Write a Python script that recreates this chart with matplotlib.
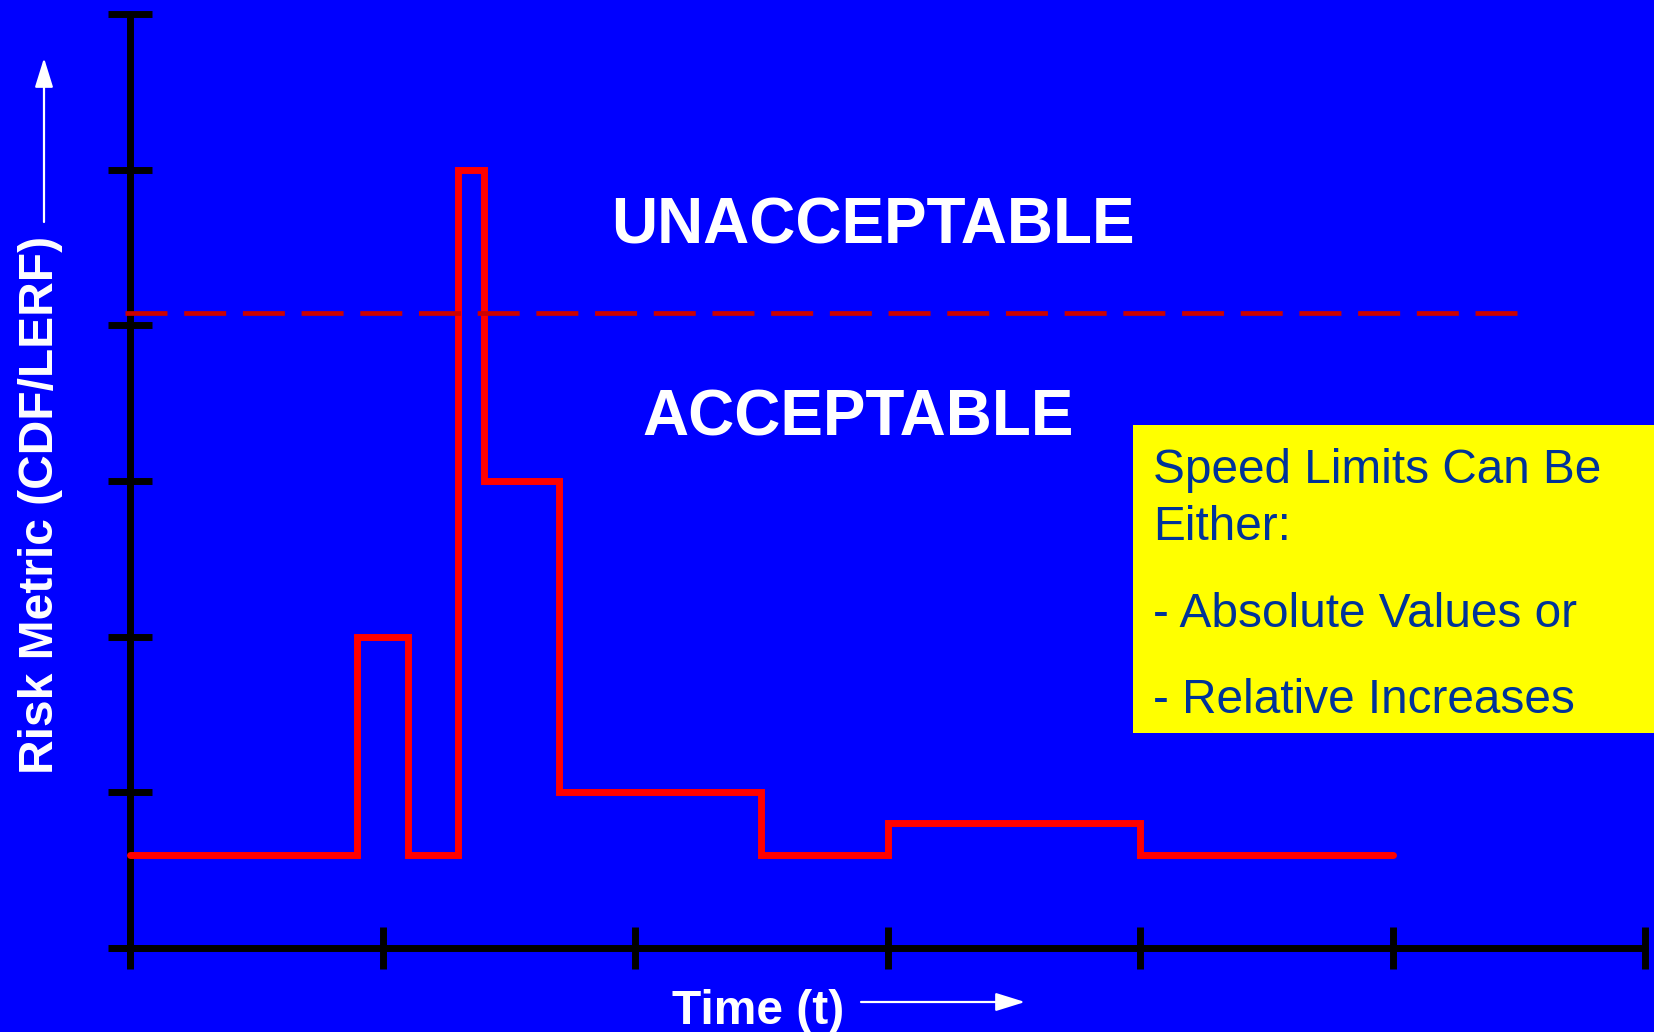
import matplotlib
matplotlib.use("Agg")
import matplotlib.pyplot as plt
from matplotlib.patches import Rectangle

# ---- data ----
step_x = [0, 0.9, 1.1, 1.3, 1.4, 1.7, 2.5, 3.0, 4.0, 5.0]
step_y = [0.6, 2.0, 0.6, 5.0, 3.0, 1.0, 0.6, 0.8, 0.6, 0.6]
threshold = 4.08
threshold_span = [-0.02, 5.493]
x_ticks = [0, 1, 2, 3, 4, 5, 6]
y_ticks = [0, 1, 2, 3, 4, 5, 6]
upper_label = "UNACCEPTABLE"
lower_label = "ACCEPTABLE"
y_label = "Risk Metric (CDF/LERF)"
x_label = "Time (t)"
box_lines = ["Speed Limits Can Be", "Either:", "- Absolute Values or", "- Relative Increases"]

W, H = 1654, 1032
BLUE = "#0000FF"
plt.rcParams['font.family'] = ['Liberation Sans', 'DejaVu Sans']

fig = plt.figure(figsize=(W / 100, H / 100), dpi=100, facecolor=BLUE)
ax = fig.add_axes([0, 0, 1, 1])
ax.set_facecolor('none')

# pixel mapping: x=0 -> 130px, x=6 -> 1645px ; y=0 -> 948px (from top), y=6 -> 14px
pxx = (1645 - 130) / 6
pxy = (948 - 14) / 6
ax.set_xlim(-130 / pxx, 6 + (W - 1645) / pxx)
ax.set_ylim(-(H - 948) / pxy, 6 + 14 / pxy)

for s in ['top', 'right']:
    ax.spines[s].set_visible(False)
for s in ['left', 'bottom']:
    ax.spines[s].set_position(('data', 0))
    ax.spines[s].set_linewidth(5)
    ax.spines[s].set_color('black')
    ax.spines[s].set_capstyle('round')
ax.spines['left'].set_bounds(-16.5 / pxy, 6)
ax.spines['bottom'].set_bounds(-18.5 / pxx, 6)

ax.set_xticks(x_ticks)
ax.set_yticks(y_ticks)
ax.tick_params(axis='x', direction='inout', length=30, width=5, color='black',
               labelbottom=False)
ax.tick_params(axis='y', direction='inout', length=32, width=5, color='black',
               labelleft=False)

# risk profile
ax.step(step_x, step_y, where='post', color='#FF0000', lw=5,
        solid_capstyle='round', solid_joinstyle='miter', zorder=3)

# threshold
ax.hlines(threshold, threshold_span[0], threshold_span[1], colors='#CC0000',
          lw=3.4, linestyles=(0, (8.89, 3.54)), zorder=4)

# region labels
fig.text(873 / W, (H - 243) / H, upper_label, color='white', fontsize=46,
         fontweight='bold', ha='center', va='baseline')
fig.text(858 / W, (H - 435) / H, lower_label, color='white', fontsize=46,
         fontweight='bold', ha='center', va='baseline')

# axis labels
fig.text(53 / W, (H - 505) / H, y_label, color='white', fontsize=34.5,
         fontweight='bold', rotation=90, rotation_mode='anchor',
         ha='center', va='baseline')
fig.text(758 / W, (H - 1024) / H, x_label, color='white', fontsize=34.5,
         fontweight='bold', ha='center', va='baseline')

# arrows
arrow_kw = dict(arrowstyle='-|>,head_length=0.9,head_width=0.28', color='white',
                lw=1.6, mutation_scale=20, shrinkA=0, shrinkB=0)
ax.annotate('', xy=(44 / W, (H - 58) / H), xytext=(44 / W, (H - 222) / H),
            xycoords='figure fraction', textcoords='figure fraction',
            arrowprops=arrow_kw)
ax.annotate('', xy=(1025 / W, (H - 1002) / H), xytext=(861 / W, (H - 1002) / H),
            xycoords='figure fraction', textcoords='figure fraction',
            arrowprops=arrow_kw)

# yellow note box
fig.patches.append(Rectangle((1133 / W, (H - 733) / H), (W - 1133) / W + 0.01,
                             (733 - 425) / H, transform=fig.transFigure,
                             facecolor='#FFFF00', edgecolor='none', zorder=5))
baselines = [483, 540, 627, 713]
for txt, b in zip(box_lines, baselines):
    fig.text(1153 / W, (H - b) / H, txt, color='#003399', fontsize=34.4,
             ha='left', va='baseline', zorder=6)

fig.savefig('out.png', dpi=100, facecolor=BLUE)
